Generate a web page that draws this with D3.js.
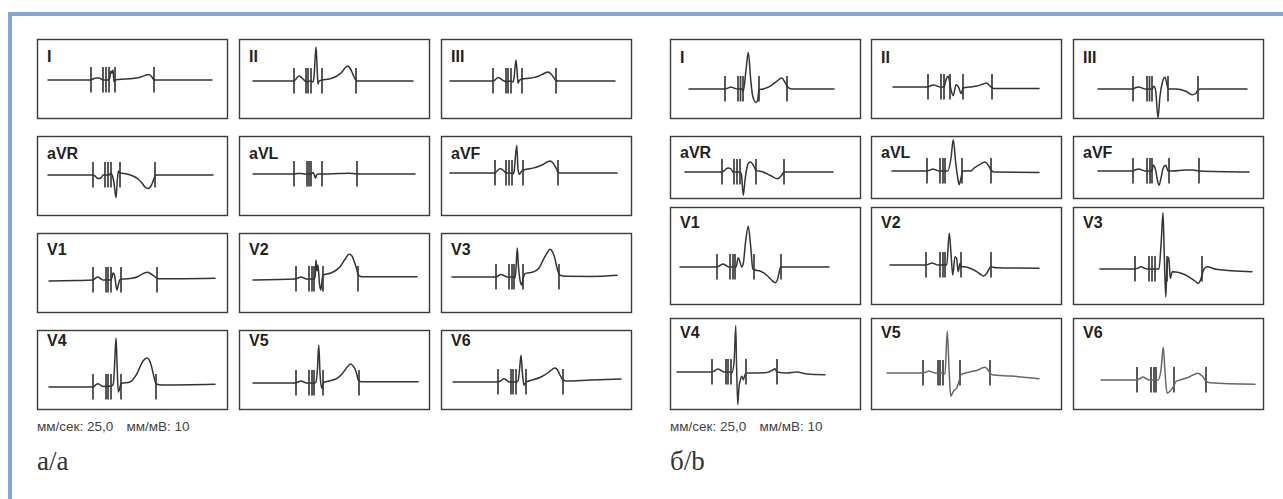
<!DOCTYPE html>
<html><head><meta charset="utf-8">
<script src="https://cdn.jsdelivr.net/npm/d3@7"></script>
<style>
html,body{margin:0;padding:0;background:#fff;}
svg{display:block;}
</style></head><body>
<svg id="chart" width="1283" height="499"></svg>
<script>
// ---- Data: 12-lead ECG averaged complexes, time in ms, amplitude in mV ----
const leadNames = ["I","II","III","aVR","aVL","aVF","V1","V2","V3","V4","V5","V6"];
const speedLabel = "мм/сек: 25,0";
const gainLabel = "мм/мВ: 10";
const groupTags = ["а/a", "б/b"];

// group а
const a_I   = [[48,0],[392,0],[408,0.05],[432,0.1],[456,0.1],[480,0.025],[488,0],[536,0],[544,0.15],[552,0.45],[560,0.35],[568,0.5],[576,-0.1],[584,0],[616,0.025],[728,0.075],[792,0.15],[832,0.25],[856,0.275],[880,0.15],[896,0],[920,0],[1360,0]];
const a_II  = [[72,0],[400,0],[416,0.1],[440,0.25],[464,0.15],[488,0],[496,-0.025],[536,0],[552,-0.05],[560,0.2],[576,1.7],[588,0.25],[592,-0.15],[600,0],[624,0.05],[680,0.1],[744,0.25],[784,0.45],[808,0.65],[832,0.75],[848,0.65],[864,0.45],[880,0.2],[896,0.05],[904,0],[1352,0]];
const a_III = [[32,0],[376,0],[392,0.05],[416,0.175],[440,0.1],[464,0],[480,-0.025],[520,0],[536,-0.05],[544,0.15],[560,1.05],[572,0.2],[576,-0.1],[584,0],[608,0.1],[680,0.15],[744,0.25],[784,0.375],[816,0.45],[840,0.35],[864,0.15],[880,0.025],[896,0],[1352,0]];
const a_aVR = [[48,0],[408,0],[424,-0.05],[448,-0.175],[472,-0.15],[488,0],[504,0],[536,0],[552,0.1],[564,-0.05],[576,-0.4],[592,-1.13],[604,-0.15],[612,0.2],[624,0.1],[680,0.05],[728,-0.05],[768,-0.2],[800,-0.4],[824,-0.6],[848,-0.68],[872,-0.55],[892,-0.25],[904,-0.05],[920,0],[1368,0]];
const a_aVL = [[72,0],[400,0],[424,0.025],[456,0.025],[488,0],[536,0],[552,0.075],[560,0],[572,-0.215],[580,-0.05],[592,0],[624,0],[760,0.025],[840,0.04],[904,0],[1368,0]];
const a_aVF = [[32,0],[392,0],[408,0.1],[432,0.215],[456,0.15],[476,0.025],[488,0],[520,0],[536,-0.05],[544,0.05],[566,1.385],[576,0.2],[586,-0.065],[600,0.05],[616,0.135],[680,0.225],[728,0.3],[776,0.425],[808,0.55],[832,0.6],[856,0.5],[880,0.25],[896,0.05],[912,0],[1368,0]];
const a_V1  = [[56,-0.05],[280,-0.025],[408,0],[424,0.075],[448,0.15],[472,0.05],[488,0],[552,0],[560,0.15],[568,0.35],[580,0.25],[588,-0.1],[600,-0.5],[612,-0.2],[624,0.025],[648,0.05],[720,0.085],[768,0.175],[800,0.285],[824,0.365],[848,0.385],[872,0.3],[896,0.2],[928,0.065],[1080,0.065],[1384,0.085]];
const a_V2  = [[72,-0.05],[416,0],[432,0.05],[456,0.1],[480,0.05],[496,0],[560,0],[568,0.1],[576,0.95],[584,0.4],[592,0.7],[604,-0.25],[614,-0.55],[624,-0.1],[632,0.2],[688,0.285],[728,0.4],[768,0.615],[808,0.985],[840,1.235],[864,1.15],[880,0.9],[902,0.5],[914,0.2],[942,0.115],[1384,0.115]];
const a_V3  = [[48,0],[400,0],[416,0.05],[440,0.125],[464,0.075],[488,0],[544,0],[552,-0.05],[560,0.4],[570,1.45],[580,0.5],[592,-0.15],[606,-0.4],[616,-0.1],[632,0.165],[696,0.25],[744,0.45],[776,0.835],[808,1.2],[832,1.385],[856,1.2],[872,0.9],[886,0.5],[900,0.2],[912,0.085],[960,0.035],[1160,0.025],[1368,0.085]];
const a_V4  = [[56,0],[408,0],[424,0.075],[448,0.165],[472,0.075],[488,0.025],[552,0.05],[570,0.135],[580,1],[592,2.45],[600,1.25],[610,-0.25],[620,-0.1],[632,0.165],[704,0.25],[760,0.665],[808,1.3],[840,1.45],[870,1.165],[896,0.5],[912,0.165],[960,0.1],[1384,0.135]];
const a_V5  = [[72,0],[416,0],[432,0.05],[456,0.1],[480,0.05],[496,0],[560,0],[576,0.05],[588,0.75],[598,1.9],[608,0.5],[622,-0.265],[632,0.025],[680,0.1],[744,0.235],[784,0.45],[808,0.65],[832,0.85],[854,0.95],[872,0.85],[888,0.7],[904,0.4],[914,0.15],[936,0.065],[1392,0.065]];
const a_V6  = [[56,0],[416,0],[440,0.075],[464,0.165],[488,0.075],[504,0],[560,0],[576,0.05],[588,0.6],[600,1.335],[612,0.4],[624,-0.165],[640,0],[664,0.05],[760,0.25],[824,0.5],[848,0.625],[872,0.7],[892,0.6],[908,0.4],[934,0.115],[960,0.05],[1160,0.1],[1400,0.15]];

// fiducial marks (ms): P on, P off, ref, QRS on, QRS off, T off
const marks_a = [
  [392,488,512,536,584,896],
  [400,496,512,536,624,896],
  [376,480,496,520,608,880],
  [408,504,528,552,624,904],
  [400,504,520,536,624,904],
  [392,480,504,528,616,896],
  [408,512,528,552,632,920],
  [416,520,544,560,632,912],
  [400,504,528,544,616,904],
  [408,512,528,552,632,912],
  [416,520,544,560,632,920],
  [416,520,536,560,640,936]
];

// group б
const b_I   = [[112,0],[400,0],[424,0.05],[448,0.1],[472,0.05],[496,0],[536,0],[546,-0.115],[568,0.95],[586,1.83],[606,0.45],[622,-0.365],[648,-0.67],[662,-0.535],[672,-0.05],[704,0],[760,0.135],[814,0.385],[854,0.55],[880,0.335],[902,0.1],[934,0],[1272,0]];
const b_II  = [[136,0],[416,0],[440,0.075],[464,0.1],[488,0.05],[512,0],[544,0],[560,0.365],[578,0.535],[600,-0.135],[618,-0.435],[640,0.115],[664,-0.05],[680,-0.335],[698,-0.05],[752,0],[808,0.05],[858,0.15],[886,0.2],[912,0.05],[938,-0.07],[1304,-0.07]];
const b_III = [[160,0],[440,0],[464,0.075],[488,0.1],[512,0.05],[536,0],[592,0],[608,0.135],[622,-0.115],[640,-1.45],[656,-0.35],[674,0.315],[696,0.585],[712,0.215],[722,0],[784,0],[862,-0.115],[914,-0.285],[942,-0.235],[960,-0.035],[984,0],[1352,0]];
const b_aVR = [[80,0],[376,0],[400,0.1],[424,0.2],[448,0.15],[464,0],[520,0],[532,-0.15],[546,-1.165],[560,-0.4],[572,0.1],[588,0.45],[604,0.5],[620,0.4],[634,0.25],[648,0.085],[704,0],[760,-0.165],[818,-0.335],[854,-0.165],[872,0],[1264,0]];
const b_aVL = [[128,0],[408,0],[432,0.05],[456,0.1],[480,0.05],[504,0],[552,0],[574,0],[600,0.65],[618,1.565],[638,0.4],[654,-0.335],[666,-0.685],[680,-0.35],[694,0],[758,0],[778,0.115],[832,0.335],[872,0.45],[898,0.285],[920,0.05],[944,-0.05],[1304,-0.07]];
const b_aVF = [[160,0],[440,0],[464,0.075],[488,0.1],[512,0.05],[536,0],[592,0],[602,0.285],[622,0.015],[632,-0.35],[648,-0.715],[666,-0.3],[680,0.115],[702,0.285],[720,0.015],[760,0],[856,0.05],[920,0.05],[968,0],[1368,-0.05]];
const b_V1  = [[40,0],[336,0],[360,0.075],[384,0.15],[408,0.075],[432,0],[488,0],[506,0.465],[520,0.25],[534,0],[546,0.165],[566,1.335],[586,2.035],[606,1],[622,-0.085],[634,-0.135],[680,-0.2],[734,-0.415],[774,-0.665],[800,-0.785],[818,-0.665],[834,-0.25],[846,0],[1232,0]];
const b_V2  = [[112,0],[400,0],[424,0.05],[448,0.1],[472,0.05],[496,0],[552,0],[566,0],[586,1.585],[600,0.585],[614,-0.5],[632,0.415],[644,0.35],[658,-0.335],[672,0.085],[680,-0.085],[720,-0.1],[752,-0.165],[806,-0.335],[832,-0.45],[858,-0.55],[886,-0.415],[904,-0.2],[918,-0.085],[960,-0.135],[1304,-0.165]];
const b_V3  = [[176,0],[456,0],[480,0.05],[504,0.115],[528,0.05],[552,0],[616,0],[648,0],[666,1.4],[680,2.815],[690,0.75],[702,-1.385],[712,0.115],[726,0.585],[738,-0.465],[754,-0.135],[814,-0.185],[894,-0.415],[936,-0.6],[960,-0.715],[980,-0.55],[994,-0.25],[1008,0],[1032,0.115],[1104,-0.015],[1392,-0.135]];
const b_V4  = [[16,0],[296,0],[320,0.075],[344,0.15],[368,0.075],[392,0],[440,0],[454,-0.05],[472,0.45],[486,2.315],[492,0.5],[502,-1.635],[512,-0.75],[520,-0.465],[534,-0.215],[546,-0.385],[560,-0.135],[568,-0.05],[624,-0.05],[736,-0.025],[784,0.1],[800,0.165],[814,0],[894,-0.05],[974,0],[1056,-0.1],[1200,-0.135]];
const b_V5  = [[88,0],[376,0],[400,0.05],[424,0.1],[448,0.05],[472,0],[536,0],[552,-0.05],[570,2.085],[586,0],[598,-1.165],[618,-0.915],[646,-0.75],[664,-0.415],[680,-0.085],[752,0.05],[816,0.15],[848,0.25],[872,0.285],[896,0.15],[912,0],[936,-0.1],[1080,-0.15],[1304,-0.285]];
const b_V6  = [[184,0],[472,0],[496,0.075],[520,0.15],[544,0.075],[568,0],[624,0],[640,0],[664,0.5],[682,1.635],[696,0.4],[712,-0.665],[744,-0.5],[770,-0.25],[784,-0.075],[816,0],[894,0.165],[928,0.275],[960,0.335],[984,0.25],[1000,0.165],[1026,-0.085],[1056,-0.135],[1416,-0.215]];

const marks_b = [
  [400,504,524,544,672,896],
  [416,520,544,592,696,928],
  [440,552,572,592,720,960],
  [376,472,496,520,648,872],
  [408,512,536,552,688,920],
  [440,552,576,592,728,968],
  [336,440,464,480,632,848],
  [400,512,536,552,680,920],
  [456,568,592,616,712,992],
  [296,408,424,448,568,816],
  [376,496,512,536,672,912],
  [472,584,608,624,768,1024]
];

const traces_a = [a_I,a_II,a_III,a_aVR,a_aVL,a_aVF,a_V1,a_V2,a_V3,a_V4,a_V5,a_V6];
const traces_b = [b_I,b_II,b_III,b_aVR,b_aVL,b_aVF,b_V1,b_V2,b_V3,b_V4,b_V5,b_V6];

// ---- Layout ----
const W = 1283, H = 499;
const layoutA = {
  cols: [37, 239, 441], width: 190,
  rows: [39, 136, 233, 330], heights: [79, 79, 79, 79],
  iso: [41, 42, 42, 39, 38, 37, 47, 46, 44, 57, 53, 52],
  labelDy: [23, 23, 22, 16],
  tone: ["#333","#333","#333","#333","#333","#333","#333","#333","#333","#333","#333","#333"],
  footX: 37, tagX: 37
};
const layoutB = {
  cols: [670, 871, 1073], width: 190,
  rows: [39, 136, 207, 318], heights: [79, 62, 97, 91],
  iso: [50, 48, 50, 36, 35, 35, 60, 58, 62, 54, 55, 62],
  labelDy: [24, 22, 21, 20],
  tone: ["#333","#333","#333","#333","#333","#333","#333","#333","#333","#3a3a3a","#666","#666"],
  footX: 670, tagX: 670
};

const PX_PER_MV = 20;      // 10 mm/mV
const timeDomain = [0, 1440];

const svg = d3.select("#chart");
svg.append("rect").attr("width", W).attr("height", H).attr("fill", "#fff");

// page frame
const frame = "#86a5d5";
svg.append("rect").attr("x", 8).attr("y", 12).attr("width", W - 8).attr("height", 4).attr("fill", frame);
svg.append("rect").attr("x", 8).attr("y", 12).attr("width", 4).attr("height", H - 12).attr("fill", frame);

function drawGroup(traces, marks, L, tag) {
  const g = svg.append("g");
  leadNames.forEach((name, i) => {
    const r = Math.floor(i / 3), c = i % 3;
    const x0 = L.cols[c], y0 = L.rows[r], h = L.heights[r];
    const iso = y0 + L.iso[i];
    const x = d3.scaleLinear().domain(timeDomain).range([x0 + 5, x0 + 185]);
    const y = d3.scaleLinear().domain([-1, 1]).range([iso + PX_PER_MV, iso - PX_PER_MV]);
    const p = g.append("g");

    p.append("rect")
      .attr("x", x0 + 0.5).attr("y", y0 + 0.5)
      .attr("width", L.width).attr("height", h)
      .attr("fill", "#fff").attr("stroke", "#3a3a3a").attr("stroke-width", 1.4);

    p.selectAll("line.mark").data(marks[i]).join("line")
      .attr("class", "mark")
      .attr("x1", d => x(d)).attr("x2", d => x(d))
      .attr("y1", y(0.65)).attr("y2", y(-0.62))
      .attr("stroke", "#3c3c3c").attr("stroke-width", 1.7);

    const line = d3.line().x(d => x(d[0])).y(d => y(d[1])).curve(d3.curveMonotoneX);
    p.append("path").datum(traces[i]).attr("d", line)
      .attr("fill", "none").attr("stroke", L.tone[i]).attr("stroke-width", 1.5)
      .attr("stroke-linejoin", "round").attr("stroke-linecap", "round");

    p.append("text")
      .attr("x", x0 + 10).attr("y", y0 + L.labelDy[r])
      .attr("font-family", "'Liberation Sans', Arial, sans-serif")
      .attr("font-weight", "bold").attr("font-size", 16).attr("fill", "#222")
      .text(name);
  });

  g.append("text").attr("x", L.footX).attr("y", 431)
    .attr("font-family", "'Liberation Sans', Arial, sans-serif")
    .attr("font-size", 13.5).attr("fill", "#444").text(speedLabel);
  g.append("text").attr("x", L.footX + 89.5).attr("y", 431)
    .attr("font-family", "'Liberation Sans', Arial, sans-serif")
    .attr("font-size", 13.5).attr("fill", "#444").text(gainLabel);
  g.append("text").attr("x", L.tagX).attr("y", 470)
    .attr("font-family", "'Liberation Serif', 'Times New Roman', serif")
    .attr("font-size", 27).attr("fill", "#333").text(tag);
}

drawGroup(traces_a, marks_a, layoutA, groupTags[0]);
drawGroup(traces_b, marks_b, layoutB, groupTags[1]);
</script>
</body></html>
